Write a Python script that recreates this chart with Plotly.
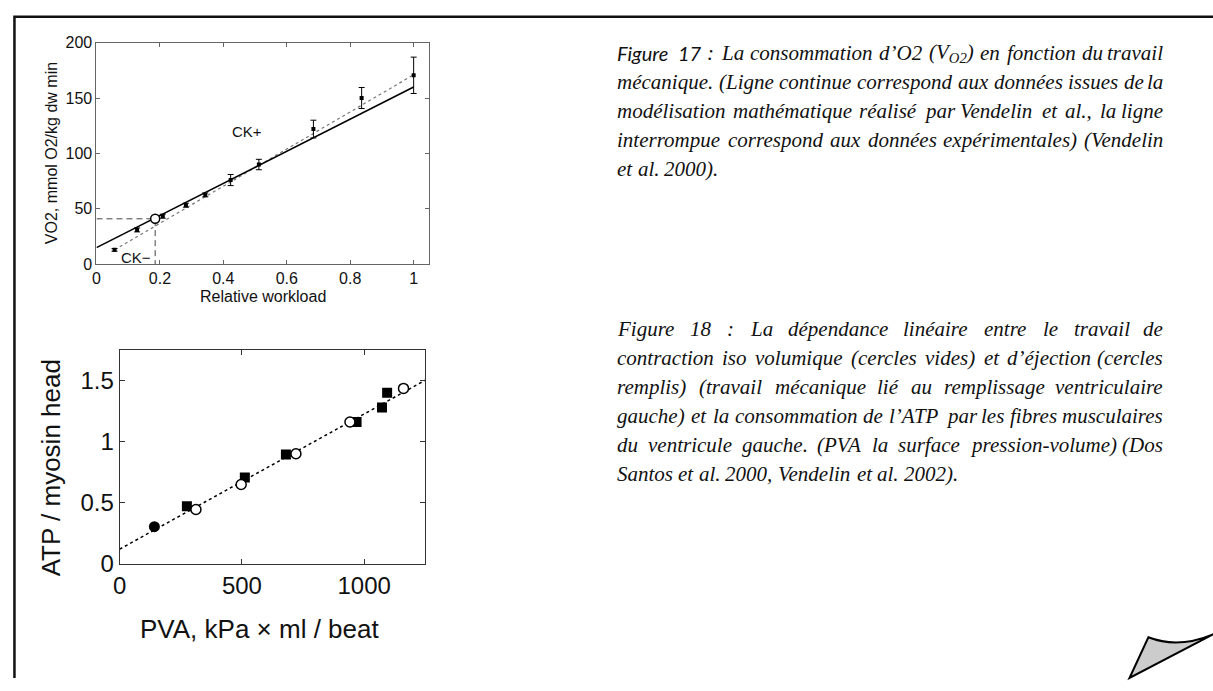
import re
import plotly.graph_objects as go

W, H = 1213, 691

# ---------------- data: Figure 17 (VO2 vs relative workload) ----------------
workload = [0.057, 0.128, 0.209, 0.282, 0.343, 0.423, 0.512, 0.684, 0.836, 1.0]
vo2_exp = [13, 31, 43.4, 53.3, 62.6, 76, 90, 122, 150, 170.5]
vo2_err = [1.2, 1.8, 1.8, 1.8, 1.8, 5, 4.7, 8, 9.5, 16.4]
model_workload = [0, 1.0]
vo2_model = [15, 160]
fit_workload = [0.057, 1.0]
vo2_fit = [13, 171]
ref_workload = [0.185]
ref_vo2 = [41]
ck_labels = ["CK+", "CK\u2212"]
ck_x = [0.475, 0.125]
ck_y = [120, 6]
top_xticks = [0, 0.2, 0.4, 0.6, 0.8, 1]
top_xticklabels = ["0", "0.2", "0.4", "0.6", "0.8", "1"]
top_yticks = [0, 50, 100, 150, 200]

# ---------------- data: Figure 18 (ATP vs PVA) ----------------
pva_iso = [312, 497, 721, 942, 1161]
atp_iso = [0.444, 0.648, 0.899, 1.159, 1.433]
pva_ej_sq = [275, 512, 680, 969, 1073, 1094]
atp_ej_sq = [0.47, 0.706, 0.894, 1.159, 1.278, 1.397]
pva_ej_circ = [142]
atp_ej_circ = [0.304]
pva_fit = [0, 1250]
atp_fit = [0.12, 1.5]
bot_xticks = [0, 500, 1000]
bot_yticks = [0, 0.5, 1, 1.5]
bot_yticklabels = ["0", "0.5", "1", "1.5"]

# ---------------- captions ----------------
FIG17_LINES = [
    "Figure 17 : La consommation d\u2019O2 (V<sub>O2</sub>) en fonction du travail",
    "m\u00e9canique. (Ligne continue correspond aux donn\u00e9es issues de la",
    "mod\u00e9lisation math\u00e9matique r\u00e9alis\u00e9 par Vendelin et al., la ligne",
    "interrompue correspond aux donn\u00e9es exp\u00e9rimentales) (Vendelin",
    "et al. 2000).",
]
FIG18_LINES = [
    "Figure 18 : La d\u00e9pendance lin\u00e9aire entre le travail de",
    "contraction iso volumique (cercles vides) et d\u2019\u00e9jection (cercles",
    "remplis) (travail m\u00e9canique li\u00e9 au remplissage ventriculaire",
    "gauche) et la consommation de l\u2019ATP par les fibres musculaires",
    "du ventricule gauche. (PVA la surface pression-volume) (Dos",
    "Santos et al. 2000, Vendelin et al. 2002).",
]

# ---------------- layout helpers ----------------
def px(x):
    return x / W


def py(y):
    return 1 - y / H


TOP = dict(x0=90, x1=424, y0=35.7, y1=264.3)
BOT = dict(x0=113.3, x1=420.7, y0=352.3, y1=573.3)

SERIF_W = {
    ' ': 250, '(': 333, ')': 333, ',': 250, '-': 333, '.': 250, ':': 333, '\u2019': 333,
    'A': 611, 'C': 667, 'D': 722, 'F': 611, 'L': 556, 'O': 722, 'P': 611, 'S': 500,
    'T': 556, 'V': 611, 'a': 500, 'b': 500, 'c': 444, 'd': 500, 'e': 444, 'f': 278,
    'g': 500, 'h': 500, 'i': 278, 'j': 278, 'k': 444, 'l': 278, 'm': 722, 'n': 500,
    'o': 500, 'p': 500, 'q': 500, 'r': 389, 's': 389, 't': 278, 'u': 500, 'v': 444,
    'w': 667, 'x': 444, 'y': 444, 'z': 389, '\u00e9': 444,
}
SANS_W = {'F': 540, 'i': 235, 'g': 490, 'u': 545, 'r': 355, 'e': 510, '1': 580, '7': 580}


def measure(word, table, size):
    total = 0.0
    parts = re.split(r'(<sub>.*?</sub>)', word)
    for p in parts:
        if p.startswith('<sub>'):
            inner = p[5:-6]
            total += 0.7 * sum(table.get(c, 500) for c in inner)
        else:
            total += sum(table.get(c, 500) for c in p)
    return total / 1000 * size


SERIF_FONT = "Liberation Serif"
SANS_FONT = "Lato"
FS = 21
FS_SANS = 20
LEFT, RIGHT = 613, 1164

annotations = []


def add_caption(lines, ys, sans_words_first_line=0):
    for li, (line, yy) in enumerate(zip(lines, ys)):
        words = line.split(' ')
        items = []
        for wi, w in enumerate(words):
            sans = (li == 0 and wi < sans_words_first_line)
            if sans:
                items.append((w, measure(w, SANS_W, FS_SANS), SANS_FONT, FS_SANS))
            else:
                items.append((w, measure(w, SERIF_W, FS), SERIF_FONT, FS))
        total = sum(it[1] for it in items)
        last = (li == len(lines) - 1)
        if last or len(items) == 1:
            gap = 0.25 * FS
        else:
            gap = (RIGHT - LEFT - total) / (len(items) - 1)
        x = LEFT
        for wi, (w, ww, fam, fs) in enumerate(items):
            if not last and wi == len(items) - 1 and len(items) > 1:
                xa, xpos = 'right', RIGHT
            else:
                xa, xpos = 'left', x
            annotations.append(dict(
                text="<i>" + w + "</i>", x=px(xpos), y=py(yy), xref='paper', yref='paper',
                xanchor=xa, yanchor='middle', showarrow=False, borderpad=0,
                font=dict(family=fam, size=fs, color='#111')))
            x += ww + gap


add_caption(FIG17_LINES, [46, 76, 106, 136, 166], sans_words_first_line=2)
add_caption(FIG18_LINES, [331, 361, 391, 421, 451, 481])

# ---------------- traces ----------------
fig = go.Figure()

# Top chart
fig.add_trace(go.Scatter(x=[0, ref_workload[0], ref_workload[0]], y=[ref_vo2[0], ref_vo2[0], 0],
                         mode='lines', line=dict(color='#444', width=1, dash='6px,4px'),
                         xaxis='x', yaxis='y', hoverinfo='skip'))
fig.add_trace(go.Scatter(x=fit_workload, y=vo2_fit, mode='lines',
                         line=dict(color='#777', width=1.2, dash='dot'), xaxis='x', yaxis='y'))
fig.add_trace(go.Scatter(x=model_workload, y=vo2_model, mode='lines',
                         line=dict(color='#000', width=1.6), xaxis='x', yaxis='y'))
fig.add_trace(go.Scatter(x=workload, y=vo2_exp, mode='markers',
                         marker=dict(color='#000', size=4, symbol='square'),
                         error_y=dict(type='data', array=vo2_err, color='#000', thickness=1, width=3),
                         xaxis='x', yaxis='y'))
fig.add_trace(go.Scatter(x=ref_workload, y=ref_vo2, mode='markers',
                         marker=dict(color='white', size=9, line=dict(color='#000', width=1.5)),
                         xaxis='x', yaxis='y'))

# Bottom chart
fig.add_trace(go.Scatter(x=pva_fit, y=atp_fit, mode='lines',
                         line=dict(color='#000', width=1.5, dash='dot'), xaxis='x2', yaxis='y2'))
fig.add_trace(go.Scatter(x=pva_ej_sq, y=atp_ej_sq, mode='markers',
                         marker=dict(color='#000', size=10, symbol='square'), xaxis='x2', yaxis='y2'))
fig.add_trace(go.Scatter(x=pva_ej_circ, y=atp_ej_circ, mode='markers',
                         marker=dict(color='#000', size=11, symbol='circle'), xaxis='x2', yaxis='y2'))
fig.add_trace(go.Scatter(x=pva_iso, y=atp_iso, mode='markers',
                         marker=dict(color='white', size=10, symbol='circle',
                                     line=dict(color='#000', width=1.5)), xaxis='x2', yaxis='y2'))

# CK labels
for t, xx, yy in zip(ck_labels, ck_x, ck_y):
    annotations.append(dict(text=t, x=xx, y=yy, xref='x', yref='y', showarrow=False,
                            xanchor='center', yanchor='middle',
                            font=dict(family='Liberation Sans', size=15, color='#111')))

# axis titles
TITLE_TOP = dict(family='Liberation Sans', size=16, color='#111')
TITLE_BOT = dict(family='Liberation Sans', size=26, color='#111')
annotations += [
    dict(text="Relative workload", x=px(257), y=py(298), xref='paper', yref='paper', showarrow=False,
         xanchor='center', yanchor='middle', font=TITLE_TOP),
    dict(text="VO2, mmol O2/kg dw min", x=px(45), y=py(150), xref='paper', yref='paper',
         xanchor='center', yanchor='middle', showarrow=False, textangle=-90, font=TITLE_TOP),
    dict(text="ATP / myosin head", x=px(44), y=py(474), xref='paper', yref='paper',
         xanchor='center', yanchor='middle', showarrow=False, textangle=-90, font=TITLE_BOT),
    dict(text="PVA, kPa \u00d7 ml / beat", x=px(254), y=py(640), xref='paper', yref='paper',
         xanchor='center', yanchor='middle', showarrow=False, font=TITLE_BOT),
]

axis_common = dict(showgrid=False, zeroline=False, showline=True, mirror='ticks', ticks='inside')
TICK_TOP = dict(family='Liberation Sans', size=16, color='#111')
TICK_BOT = dict(family='Liberation Sans', size=24, color='#111')

fig.update_layout(
    width=W, height=H, margin=dict(l=0, r=0, t=0, b=0),
    paper_bgcolor='white', plot_bgcolor='white', showlegend=False,
    xaxis=dict(domain=[px(TOP['x0']), px(TOP['x1'])], range=[0, 1.047], anchor='y',
               tickvals=top_xticks, ticktext=top_xticklabels, ticklen=4,
               linecolor='#666', linewidth=1, tickcolor='#666', tickfont=TICK_TOP, **axis_common),
    yaxis=dict(domain=[py(TOP['y1']), py(TOP['y0'])], range=[0, 200], anchor='x',
               tickvals=top_yticks, ticklen=4,
               linecolor='#666', linewidth=1, tickcolor='#666', tickfont=TICK_TOP, **axis_common),
    xaxis2=dict(domain=[px(BOT['x0']), px(BOT['x1'])], range=[0, 1250], anchor='y2',
                tickvals=bot_xticks, ticklen=5,
                linecolor='#333', linewidth=1, tickcolor='#333', tickfont=TICK_BOT, **axis_common),
    yaxis2=dict(domain=[py(BOT['y1']), py(BOT['y0'])], range=[0, 1.75], anchor='x2',
                tickvals=bot_yticks, ticktext=bot_yticklabels, ticklen=5,
                linecolor='#333', linewidth=1, tickcolor='#333', tickfont=TICK_BOT, **axis_common),
    annotations=annotations,
    shapes=[
        dict(type='path', xref='paper', yref='paper',
             path=f"M {px(7.5)},{py(691)} L {px(7.5)},{py(9)} L {px(1213)},{py(9)}",
             line=dict(color='#111', width=2.5)),
        dict(type='path', xref='paper', yref='paper',
             path=(f"M {px(1148)},{py(649)} Q {px(1178)},{py(661)} {px(1213)},{py(646)} "
                   f"L {px(1129)},{py(691)} Z"),
             fillcolor='#cccccc', line=dict(color='#000', width=2)),
    ],
)

fig.write_html("out.html", config={'displayModeBar': False},
               post_script="document.body.style.margin='0px';document.body.style.overflow='hidden';")
